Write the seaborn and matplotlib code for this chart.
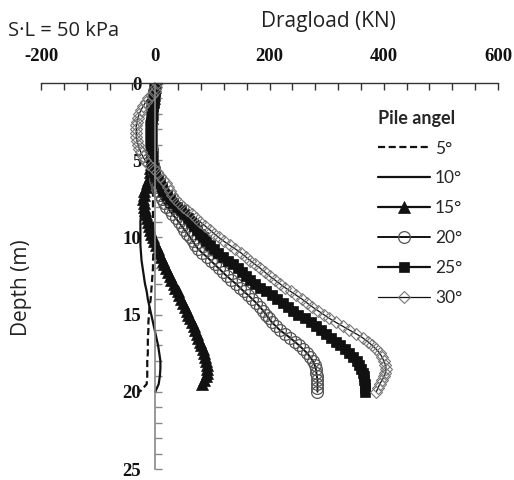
import numpy as np
import pandas as pd
import matplotlib
matplotlib.use("Agg")
import matplotlib.pyplot as plt
from matplotlib.ticker import MultipleLocator
import seaborn as sns

# Depth below ground surface (m): 0.5 m steps for the plain lines,
# 0.25 m steps for the marked series
depth = [0.0, 0.5, 1.0, 1.5, 2.0, 2.5, 3.0, 3.5, 4.0, 4.5, 5.0, 5.5, 6.0, 6.5,
         7.0, 7.5, 8.0, 8.5, 9.0, 9.5, 10.0, 10.5, 11.0, 11.5, 12.0, 12.5,
         13.0, 13.5, 14.0, 14.5, 15.0, 15.5, 16.0, 16.5, 17.0, 17.5, 18.0,
         18.5, 19.0, 19.5, 20.0]
depth_fine = [0.0, 0.25, 0.5, 0.75, 1.0, 1.25, 1.5, 1.75,
              2.0, 2.25, 2.5, 2.75, 3.0, 3.25, 3.5, 3.75,
              4.0, 4.25, 4.5, 4.75, 5.0, 5.25, 5.5, 5.75,
              6.0, 6.25, 6.5, 6.75, 7.0, 7.25, 7.5, 7.75,
              8.0, 8.25, 8.5, 8.75, 9.0, 9.25, 9.5, 9.75,
              10.0, 10.25, 10.5, 10.75, 11.0, 11.25, 11.5, 11.75,
              12.0, 12.25, 12.5, 12.75, 13.0, 13.25, 13.5, 13.75,
              14.0, 14.25, 14.5, 14.75, 15.0, 15.25, 15.5, 15.75,
              16.0, 16.25, 16.5, 16.75, 17.0, 17.25, 17.5, 17.75,
              18.0, 18.25, 18.5, 18.75, 19.0, 19.25, 19.5, 19.75,
              20.0]

# Dragload (kN) along the pile for each pile angle
load_5 = [0, -1, -2, -3, -3, -4, -4, -4, -4, -4, -4, -4, -4, -4, -4, -4, -4,
          -4, -4, -4, -3, -3, -3, -4, -4, -5, -6, -7, -8, -10, -11, -12, -12,
          -13, -13, -13, -14, -14, -14, -15, -27]
load_10 = [0, -1, -3, -4, -5, -6, -7, -7, -8, -8, -9, -10, -12, -15, -18, -21,
           -23, -25, -26, -26, -26, -26, -25, -24, -22, -20, -18, -15, -13,
           -10, -7, -4, -1, 2, 5, 7, 9, 9, 8, 6, 0]
load_15 = [0, -1, -2, -2, -3, -4, -5, -5,
           -6, -6, -7, -7, -7, -7, -7, -7,
           -8, -8, -8, -8, -8, -8, -9, -9,
           -10, -12, -14, -17, -19, -20, -21, -20,
           -19, -18, -17, -15, -13, -11, -9, -7,
           -4, -2, 1, 4, 7, 10, 13, 16,
           19, 22, 25, 28, 32, 35, 39, 42,
           45, 49, 52, 55, 58, 61, 64, 67,
           70, 73, 75, 78, 80, 83, 85, 87,
           89, 90, 91, 90, 88, 85, 82]
load_20 = [0, -1, -2, -2, -3, -4, -5, -5,
           -6, -6, -7, -7, -7, -7, -7, -7,
           -7, -6, -6, -5, -5, -4, -3, -2,
           -1, 0, 2, 3, 5, 8, 11, 15,
           19, 25, 30, 36, 41, 46, 51, 56,
           61, 66, 70, 75, 82, 90, 97, 104,
           111, 118, 125, 133, 141, 148, 155, 163,
           170, 177, 183, 189, 194, 199, 204, 211,
           218, 227, 236, 244, 252, 259, 266, 271,
           276, 279, 281, 282, 283, 284, 284, 284,
           284]
load_25 = [0, 0, -1, -2, -3, -3, -4, -5,
           -6, -6, -7, -7, -8, -8, -8, -8,
           -8, -7, -7, -6, -6, -5, -4, -2,
           0, 4, 8, 11, 14, 20, 25, 31,
           38, 45, 51, 57, 62, 67, 73, 79,
           84, 89, 95, 103, 110, 118, 127, 136,
           144, 151, 158, 166, 175, 184, 194, 204,
           214, 224, 233, 241, 250, 262, 273, 282,
           290, 299, 308, 316, 324, 332, 340, 347,
           353, 357, 361, 363, 365, 366, 367, 368,
           368]
load_30 = [3, 2, 0, -6, -12, -17, -21, -25,
           -28, -30, -32, -33, -33, -33, -33, -32,
           -30, -28, -25, -22, -18, -12, -4, 3,
           9, 14, 18, 22, 26, 30, 34, 41,
           48, 56, 64, 71, 79, 87, 95, 103,
           111, 120, 130, 140, 150, 158, 166, 175,
           184, 192, 200, 209, 218, 227, 237, 247,
           257, 266, 275, 285, 295, 305, 316, 328,
           340, 352, 363, 372, 380, 387, 393, 397,
           400, 403, 404, 403, 401, 397, 393, 390,
           387]

angle_labels = ["5°", "10°", "15°", "20°", "25°", "30°"]
x_ticks = [-200, 0, 200, 400, 600]
y_ticks = [0, 5, 10, 15, 20, 25]

sns.set_theme(style="white")
plt.rcParams["font.family"] = ["DejaVu Sans"]

fig = plt.figure(figsize=(5.14, 4.80), dpi=100)
ax = fig.add_axes([41 / 514, 1 - 469 / 480, 457 / 514, 386 / 480])

black = "#111111"
series = [
    (load_5, depth, dict(linestyle=(0, (3.2, 1.6)), lw=1.6)),
    (load_10, depth, dict(lw=1.6)),
    (load_15, depth_fine[:len(load_15)],
     dict(lw=1.6, marker="^", markersize=8, markerfacecolor=black,
          markeredgecolor=black, markeredgewidth=0.5)),
    (load_20, depth_fine,
     dict(lw=1.4, marker="o", markersize=8.5, markerfacecolor="none",
          markeredgecolor="#555555", markeredgewidth=0.9)),
    (load_25, depth_fine,
     dict(lw=1.6, marker="s", markersize=7, markerfacecolor=black,
          markeredgecolor=black, markeredgewidth=0.5)),
    (load_30, depth_fine,
     dict(lw=0.9, marker="D", markersize=6.5, markerfacecolor="none",
          markeredgecolor="#777777", markeredgewidth=0.8)),
]

for (vals, dep, style), lab in zip(series, angle_labels):
    df = pd.DataFrame({"load": vals, "depth": dep})
    sns.lineplot(data=df, x="load", y="depth", sort=False, estimator=None,
                 color=black, label=lab, ax=ax, **style)

# Axes: load axis on top, depth increasing downward, depth axis at load = 0
ax.set_xlim(-200, 600)
ax.set_ylim(25, 0)
ax.set_xlabel("")
ax.set_ylabel("")
ax.grid(False)
ax.set_facecolor("white")

ax.spines["bottom"].set_visible(False)
ax.spines["right"].set_visible(False)
ax.spines["top"].set_color("#333333")
ax.spines["top"].set_linewidth(1.0)
ax.spines["left"].set_position(("data", 0))
ax.spines["left"].set_color("#888888")
ax.spines["left"].set_linewidth(1.2)

ax.xaxis.set_ticks_position("top")
ax.xaxis.set_label_position("top")
ax.set_xticks(x_ticks)
ax.set_xticklabels([str(v) for v in x_ticks])
ax.xaxis.set_minor_locator(MultipleLocator(40))
ax.set_yticks(y_ticks)
ax.set_yticklabels([str(v) for v in y_ticks])
ax.yaxis.set_minor_locator(MultipleLocator(1))

ax.tick_params(axis="x", which="both", direction="in", length=5, width=1,
               color="#333333", top=True, bottom=False, pad=13)
ax.tick_params(axis="y", which="both", direction="in", length=5, width=1,
               color="#888888", left=True, right=False, pad=10)
for lbl in ax.get_xticklabels() + ax.get_yticklabels():
    lbl.set_fontfamily("Liberation Serif")
    lbl.set_fontweight("bold")
    lbl.set_fontsize(13.5)
    lbl.set_color("#111111")

# Titles and annotations
fig.text(328 / 514, 1 - 22 / 480, "Dragload (KN)", ha="center", va="center",
         fontsize=15, family="Open Sans", color="#222222")
fig.text(8 / 514, 1 - 31 / 480, "S·L = 50 kPa", ha="left", va="center",
         fontsize=14.5, family="Open Sans", color="#222222")
fig.text(22 / 514, 1 - 288 / 480, "Depth (m)", ha="center", va="center",
         rotation=90, fontsize=15, family="Open Sans", color="#222222")

leg = ax.legend(loc="upper left", bbox_to_anchor=(362 / 514, 1 - 94 / 480),
                bbox_transform=fig.transFigure, frameon=False,
                title="Pile angel", alignment="left", handlelength=3.0,
                handletextpad=0.3, labelspacing=0.8, numpoints=1,
                prop={"family": "Lato", "size": 12.5},
                title_fontproperties={"family": "Lato", "weight": "bold",
                                      "size": 13})

fig.savefig("out.png", dpi=100, facecolor="white")
